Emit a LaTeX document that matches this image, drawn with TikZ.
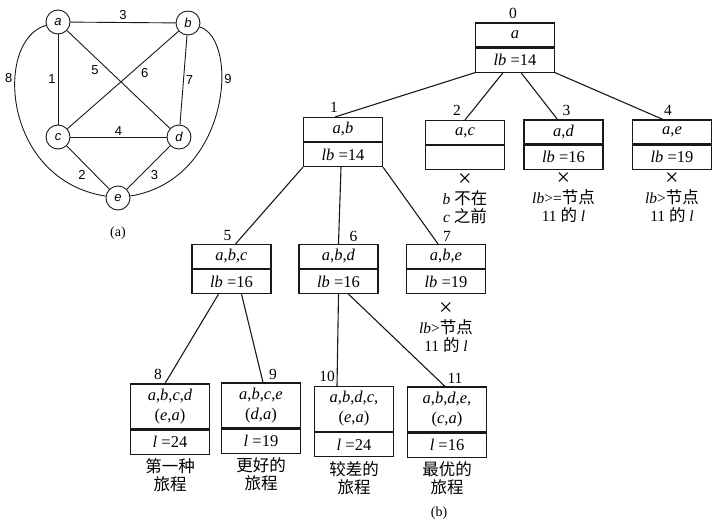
\documentclass[tikz,border=0pt]{standalone}
\usepackage{fontspec}
\setmainfont{Liberation Serif}
\setsansfont{Liberation Sans}
\newfontfamily\cjk{Noto Sans CJK SC}
\usetikzlibrary{positioning}
\definecolor{figline}{RGB}{25,25,25}
\newcommand\zhw[1]{{\cjk\fontsize{16.5}{18}\selectfont #1}}
\newcommand\xmark{{\fontsize{24}{18}\selectfont ×}}
\tikzset{
  vtx/.style  ={draw=figline, circle, line width=0.9pt, minimum size=24pt, inner sep=0pt, font=\fontsize{13}{13}\selectfont\sffamily\itshape},
  gl/.style   ={draw=figline, line width=0.9pt},
  elab/.style ={font=\fontsize{13}{13}\selectfont\sffamily, inner sep=2pt},
  cell/.style ={draw=figline, line width=1.1pt, minimum width=79pt, minimum height=24pt, inner sep=1pt, align=center, font=\fontsize{16.5}{20}\selectfont},
  leaf/.style ={cell, minimum height=45pt},
  tl/.style   ={draw=figline, line width=1.1pt},
  num/.style  ={font=\fontsize{15.5}{15}\selectfont, inner sep=0pt, anchor=base},
  note/.style ={font=\fontsize{15.5}{18}\selectfont, inner sep=0pt, align=center, anchor=north},
  capt/.style ={font=\fontsize{14}{14}\selectfont, inner sep=0pt},
}

\begin{document}
\begin{tikzpicture}[x=1pt,y=-1pt]
  \useasboundingbox (0,0) rectangle (719,525);
  % (a) the graph
  \node[vtx] (a) at (58,22) {a};
  \node[vtx] (b) at (188,23) {b};
  \node[vtx] (c) at (58,137) {c};
  \node[vtx] (d) at (179,137) {d};
  \node[vtx] (e) at (118,198) {e};
  \draw[gl] (a) -- node[elab, above] (w1) {3} (b);
  \draw[gl] (a) -- node[elab, left] (w2) {1} (c);
  \draw[gl] (b) -- node[elab, right] (w3) {7} (d);
  \draw[gl] (c) -- node[elab, above, yshift=-1pt] (w4) {4} (d);
  \draw[gl] (a) -- node[elab, pos=0.33, below left] (w5) {5} (d);
  \draw[gl] (b) -- node[elab, pos=0.36, below right] (w6) {6} (c);
  \draw[gl] (c) -- node[elab, below left] (w7) {2} (e);
  \draw[gl] (d) -- node[elab, below right] (w8) {3} (e);
  \draw[gl] (a) .. controls (-6,40) and (2,180) .. node[elab, pos=0.36, left] (w9) {8} (e);
  \draw[gl] (b) .. controls (240,40) and (230,180) .. node[elab, pos=0.36, right] (w10) {9} (e);
  \node[capt] (capa) at (118,233) {(a)};

  % (b) the search tree
  \node[cell] (n0) at (515,35) {\textit{a}};
  \node[cell, below=0pt of n0] (n0b) {\textit{lb} =14};
  \node[cell] (n1) at (343,129.5) {\textit{a},\textit{b}};
  \node[cell, below=0pt of n1] (n1b) {\textit{lb} =14};
  \node[cell] (n2) at (465,132.5) {\textit{a},\textit{c}};
  \node[cell, below=0pt of n2] (n2b) {};
  \node[cell] (n3) at (563.5,132) {\textit{a},\textit{d}};
  \node[cell, below=0pt of n3] (n3b) {\textit{lb} =16};
  \node[cell] (n4) at (672,132) {\textit{a},\textit{e}};
  \node[cell, below=0pt of n4] (n4b) {\textit{lb} =19};
  \node[cell] (n5) at (231.5,256.5) {\textit{a},\textit{b},\textit{c}};
  \node[cell, below=0pt of n5] (n5b) {\textit{lb} =16};
  \node[cell] (n6) at (338.5,256.5) {\textit{a},\textit{b},\textit{d}};
  \node[cell, below=0pt of n6] (n6b) {\textit{lb} =16};
  \node[cell] (n7) at (446,256.5) {\textit{a},\textit{b},\textit{e}};
  \node[cell, below=0pt of n7] (n7b) {\textit{lb} =19};
  \node[leaf] (n8) at (170,406.5) {\textit{a},\textit{b},\textit{c},\textit{d}\\(\textit{e},\textit{a})};
  \node[cell, below=0pt of n8] (n8b) {\textit{l} =24};
  \node[leaf] (n9) at (261,405.5) {\textit{a},\textit{b},\textit{c},\textit{e}\\(\textit{d},\textit{a})};
  \node[cell, below=0pt of n9] (n9b) {\textit{l} =19};
  \node[leaf] (n10) at (354,409) {\textit{a},\textit{b},\textit{d},\textit{c},\\(\textit{e},\textit{a})};
  \node[cell, below=0pt of n10] (n10b) {\textit{l} =24};
  \node[leaf] (n11) at (447,409.5) {\textit{a},\textit{b},\textit{d},\textit{e},\\(\textit{c},\textit{a})};
  \node[cell, below=0pt of n11] (n11b) {\textit{l} =16};

  % node numbers
  \node[num] (k0) at ([xshift=-2pt,yshift=4pt]n0.north) {0};
  \node[num] (k1) at ([xshift=-9pt,yshift=4pt]n1.north) {1};
  \node[num] (k2) at ([xshift=-8pt,yshift=4pt]n2.north) {2};
  \node[num] (k3) at ([xshift=3pt,yshift=4pt]n3.north) {3};
  \node[num] (k4) at ([xshift=-4pt,yshift=4pt]n4.north) {4};
  \node[num] (k5) at ([xshift=-4pt,yshift=3pt]n5.north) {5};
  \node[num] (k6) at ([xshift=15pt,yshift=2pt]n6.north) {6};
  \node[num] (k7) at ([xshift=1pt,yshift=2pt]n7.north) {7};
  \node[num] (k8) at ([xshift=-12pt,yshift=4pt]n8.north) {8};
  \node[num] (k9) at ([xshift=12pt,yshift=3pt]n9.north) {9};
  \node[num] (k10) at ([xshift=-27pt,yshift=4pt]n10.north) {10};
  \node[num] (k11) at ([xshift=8pt,yshift=3pt]n11.north) {11};

  % branches
  \draw[tl] (n0b.south west) -- ([xshift=-8pt]n1.north);
  \draw[tl] ([xshift=-12pt]n0b.south) -- (n2.north);
  \draw[tl] ([xshift=6pt]n0b.south) -- ([xshift=-6pt]n3.north);
  \draw[tl] (n0b.south east) -- ([xshift=-9pt]n4.north);
  \draw[tl] (n1b.south west) -- ([xshift=4pt]n5.north);
  \draw[tl] ([xshift=-2pt]n1b.south) -- (n6.north);
  \draw[tl] (n1b.south east) -- ([xshift=-8pt]n7.north);
  \draw[tl] ([xshift=-13pt]n5b.south) -- ([xshift=-5pt]n8.north);
  \draw[tl] ([xshift=10pt]n5b.south) -- ([xshift=2pt]n9.north);
  \draw[tl] (n6b.south) -- ([xshift=-17pt]n10.north);
  \draw[tl] ([xshift=10pt]n6b.south) -- ([xshift=-2pt]n11.north);

  % pruned and finished nodes
  \node[note] (t2) at ([yshift=-3pt]n2b.south) {\xmark\\\textit{b} \zhw{不在}\\\textit{c} \zhw{之前}};
  \node[note] (t3) at ([yshift=-3pt]n3b.south) {\xmark\\\textit{lb}>=\zhw{节点}\\11 \zhw{的} \textit{l}};
  \node[note] (t4) at ([yshift=-3pt]n4b.south) {\xmark\\\textit{lb}>\zhw{节点}\\11 \zhw{的} \textit{l}};
  \node[note] (t7) at ([yshift=-8pt]n7b.south) {\xmark\\\textit{lb}>\zhw{节点}\\11 \zhw{的} \textit{l}};
  \node[note] (t8) at ([yshift=-4pt]n8b.south) {\zhw{第一种}\\\zhw{旅程}};
  \node[note] (t9) at ([yshift=-4pt]n9b.south) {\zhw{更好的}\\\zhw{旅程}};
  \node[note] (t10) at ([yshift=-4pt]n10b.south) {\zhw{较差的}\\\zhw{旅程}};
  \node[note] (t11) at ([yshift=-4pt]n11b.south) {\zhw{最优的}\\\zhw{旅程}};
  \node[capt] (capb) at (439,513) {(b)};
\end{tikzpicture}
\end{document}
